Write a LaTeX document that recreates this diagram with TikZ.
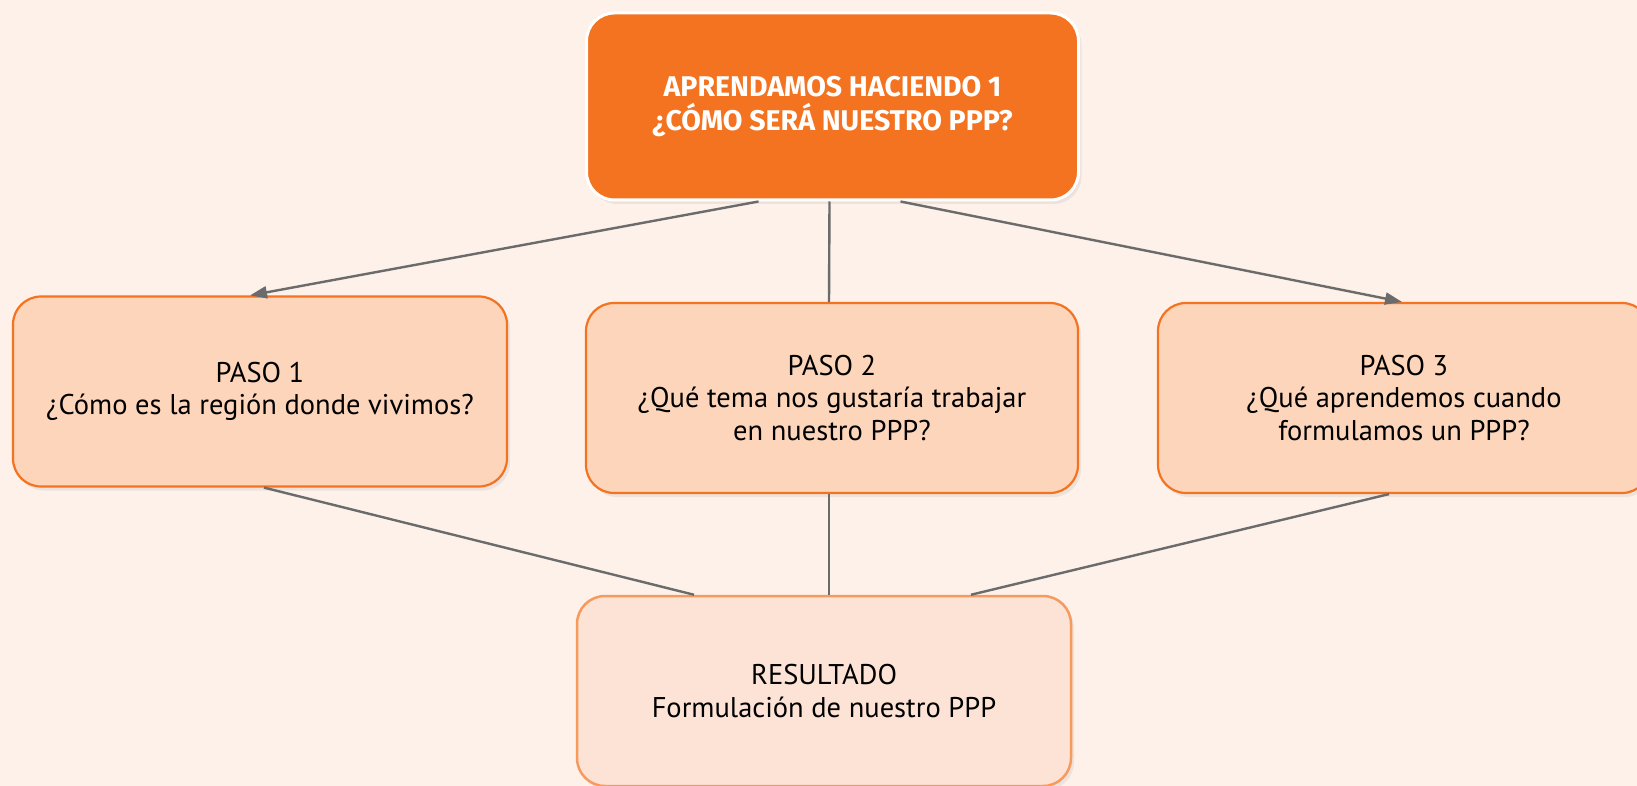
\documentclass[tikz,border=0pt]{standalone}
\usepackage{fontspec}
\setmainfont{PT Sans}
\newfontfamily\titlefont{Fira Sans}
\usetikzlibrary{positioning,arrows.meta,shadows}

\definecolor{fondo}{HTML}{FDF1E9}
\definecolor{naranja}{HTML}{F37321}
\definecolor{pasofill}{HTML}{FDD5BB}
\definecolor{resfill}{HTML}{FCE3D6}
\definecolor{resborde}{HTML}{F79A5E}
\definecolor{linea}{HTML}{6B6B6B}

\tikzset{
  caja/.style={rounded corners=28pt, minimum width=492pt, minimum height=190pt,
    align=center, font=\fontsize{28.5}{32.5}\selectfont,
    drop shadow={opacity=0.12, shadow xshift=3pt, shadow yshift=-4pt}},
  titulo/.style={caja, fill=naranja, draw=white, line width=3pt, text=white,
    font=\titlefont\bfseries\fontsize{28.5}{33.5}\selectfont},
  paso/.style={caja, fill=pasofill, draw=naranja, line width=2.2pt},
  resultado/.style={caja, fill=resfill, draw=resborde, line width=2.5pt},
  flecha/.style={draw=linea, line width=2.4pt, -{Triangle[length=17pt,width=12pt]}},
  conector/.style={draw=linea, line width=2.4pt}
}

\begin{document}
\begin{tikzpicture}[x=1pt,y=-1pt]
\fill[fondo] (0,0) rectangle (1637,786);
\useasboundingbox (0,0) rectangle (1637,786);
\clip (0,0) rectangle (1637,786);

\node[titulo, minimum height=187pt] (top) at (832.5,106.5) {APRENDAMOS HACIENDO 1\\¿CÓMO SERÁ NUESTRO PPP?};
\node[paso, minimum width=494pt] (p1) at (260,391.5) {PASO 1\\¿Cómo es la región donde vivimos?};
\node[paso] (p2) at (832,398) {PASO 2\\¿Qué tema nos gustaría trabajar\\en nuestro PPP?};
\node[paso] (p3) at (1404,398) {PASO 3\\¿Qué aprendemos cuando\\formulamos un PPP?};
\node[resultado, minimum width=494pt] (res) at (824,691) {RESULTADO\\Formulación de nuestro PPP};

\draw[flecha] ([xshift=-74pt]top.south) -- ([xshift=-10pt]p1.north);
\draw[conector] ([xshift=-3pt]top.south) -- ([xshift=-3pt]p2.north);
\draw[flecha] ([xshift=68pt]top.south) -- ([xshift=-2pt]p3.north);
\draw[conector] ([xshift=4pt]p1.south) -- ([xshift=-130pt]res.north);
\draw[conector] ([xshift=-3pt]p2.south) -- ([xshift=-3pt]p2.south |- res.north);
\draw[conector] ([xshift=-15pt]p3.south) -- ([xshift=147pt]res.north);
\end{tikzpicture}
\end{document}
